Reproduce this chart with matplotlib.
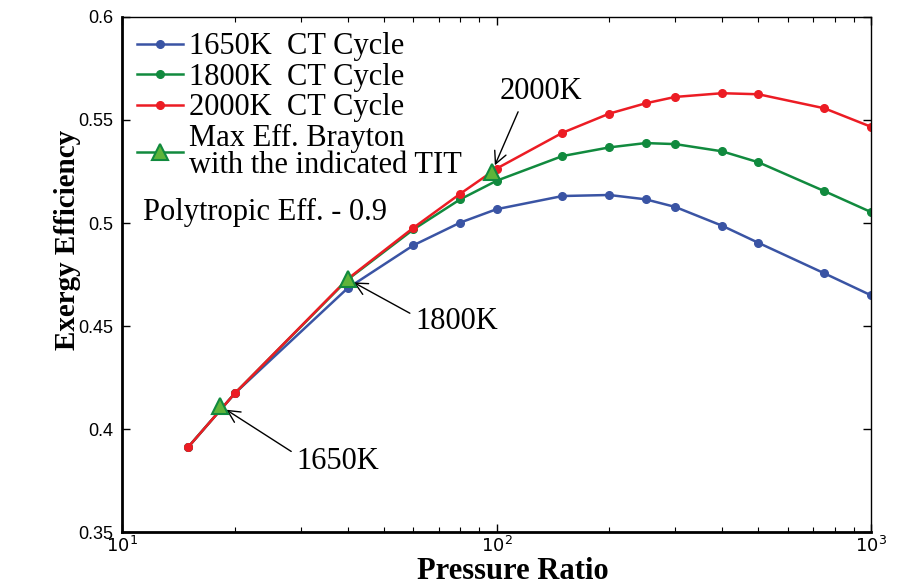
import matplotlib
matplotlib.use("Agg")
import matplotlib.pyplot as plt
from matplotlib.lines import Line2D
from matplotlib.ticker import FixedLocator, FixedFormatter, LogLocator, NullFormatter

# ── data ──────────────────────────────────────────────────────────────────────
pressure_ratio = [15, 20, 40, 60, 80, 100, 150, 200, 250, 300, 400, 500, 750, 1000]
eff_1650 = [0.3911, 0.4173, 0.4683, 0.4892, 0.5002, 0.5067, 0.5131, 0.5136,
            0.5115, 0.5078, 0.4987, 0.4904, 0.4756, 0.4649]
eff_1800 = [0.3911, 0.4173, 0.4725, 0.4969, 0.5115, 0.5205, 0.5325, 0.5367,
            0.5388, 0.5383, 0.5348, 0.5295, 0.5155, 0.5053]
eff_2000 = [0.3911, 0.4173, 0.4728, 0.4977, 0.5142, 0.5264, 0.5438, 0.5531,
            0.5581, 0.5612, 0.5630, 0.5625, 0.5557, 0.5467]

brayton_pr = [18.3, 40.0, 97.3]
brayton_eff = [0.4112, 0.4728, 0.5249]
brayton_tit = ['1650K', '1800K', '2000K']

y_ticks = [0.35, 0.4, 0.45, 0.5, 0.55, 0.6]
y_ticklabels = ['0.35', '0.4', '0.45', '0.5', '0.55', '0.6']

# ── style ─────────────────────────────────────────────────────────────────────
serif = ['Liberation Serif', 'DejaVu Serif']
narrow = ['Liberation Sans Narrow', 'Liberation Sans', 'DejaVu Sans']
c_blue = '#3a54a4'
c_green = '#118a3e'
c_red = '#ec1c24'
c_tri = '#5fb43a'
txt_size = 22

fig = plt.figure(figsize=(9.08, 5.88), dpi=100)
ax = fig.add_axes([0.1344, 0.0952, 0.8249, 0.8759])

ax.plot(pressure_ratio, eff_1650, '-o', color=c_blue, lw=1.8, ms=5.5)
ax.plot(pressure_ratio, eff_1800, '-o', color=c_green, lw=1.8, ms=5.5)
ax.plot(pressure_ratio, eff_2000, '-o', color=c_red, lw=1.8, ms=5.5)
ax.plot(brayton_pr, brayton_eff, '^', mfc=c_tri, mec=c_green,
        mew=1.5, ms=11, linestyle='none', zorder=5)

ax.set_xscale('log')
ax.set_xlim(10, 1000)
ax.set_ylim(0.35, 0.6)

ax.xaxis.set_major_locator(FixedLocator([10, 100, 1000]))
ax.xaxis.set_major_formatter(FixedFormatter(['$10^1$', '$10^2$', '$10^3$']))
ax.xaxis.set_minor_locator(LogLocator(base=10, subs=range(2, 10)))
ax.xaxis.set_minor_formatter(NullFormatter())
ax.yaxis.set_major_locator(FixedLocator(y_ticks))
ax.yaxis.set_major_formatter(FixedFormatter(y_ticklabels))

ax.tick_params(which='both', direction='in', top=True, right=True)
ax.tick_params(which='major', length=6, width=1, labelsize=13, pad=6)
ax.tick_params(axis='x', which='major', pad=3)
ax.tick_params(which='minor', length=3.5, width=0.8)
for lbl in ax.get_xticklabels() + ax.get_yticklabels():
    lbl.set_family(narrow)
for side in ['left', 'bottom']:
    ax.spines[side].set_linewidth(2)
for side in ['top', 'right']:
    ax.spines[side].set_linewidth(1)

ax.set_xlabel('Pressure Ratio', family=serif, fontweight='bold', fontsize=22)
ax.xaxis.set_label_coords(0.522, -0.104)
ax.xaxis.label.set_va('bottom')
ax.set_ylabel('Exergy Efficiency', family=serif, fontweight='bold', fontsize=21)
ax.yaxis.set_label_coords(-0.073, 0.567)
ax.yaxis.label.set_va('center')

# ── annotations ───────────────────────────────────────────────────────────────
arrow = dict(arrowstyle='->', color='black', lw=1, shrinkA=2, shrinkB=5)
ax.annotate(brayton_tit[0], xy=(brayton_pr[0], brayton_eff[0]), xytext=(29.2, 0.384),
            family=serif, fontsize=txt_size, ha='left', va='center',
            arrowprops=dict(arrow, relpos=(0, 0.75)))
ax.annotate(brayton_tit[1], xy=(brayton_pr[1], brayton_eff[1]), xytext=(60.6, 0.452),
            family=serif, fontsize=txt_size, ha='left', va='center',
            arrowprops=dict(arrow, relpos=(0, 0.7)))
ax.annotate(brayton_tit[2], xy=(brayton_pr[2], brayton_eff[2]), xytext=(102, 0.5636),
            family=serif, fontsize=txt_size, ha='left', va='center',
            arrowprops=dict(arrow, relpos=(0.25, 0)))

ax.text(0.028, 0.621, 'Polytropic Eff. - 0.9', transform=ax.transAxes,
        family=serif, fontsize=txt_size, ha='left', va='center')

handles = [
    Line2D([], [], color=c_blue, lw=1.8, marker='o', ms=5.5),
    Line2D([], [], color=c_green, lw=1.8, marker='o', ms=5.5),
    Line2D([], [], color=c_red, lw=1.8, marker='o', ms=5.5),
    Line2D([], [], color=c_green, lw=1.8, marker='^', mfc=c_tri, mec=c_green,
           mew=1.5, ms=11),
]
labels = ['1650K  CT Cycle', '1800K  CT Cycle', '2000K  CT Cycle',
          'Max Eff. Brayton\nwith the indicated TIT']
leg = ax.legend(handles, labels, loc='upper left',
                prop={'family': serif, 'size': txt_size}, frameon=False,
                handlelength=1.5, handletextpad=0.2, labelspacing=0.05,
                borderaxespad=0.2, borderpad=0.3)
for t in leg.get_texts():
    t.set_linespacing(0.9)

fig.savefig('out.png', dpi=100)
